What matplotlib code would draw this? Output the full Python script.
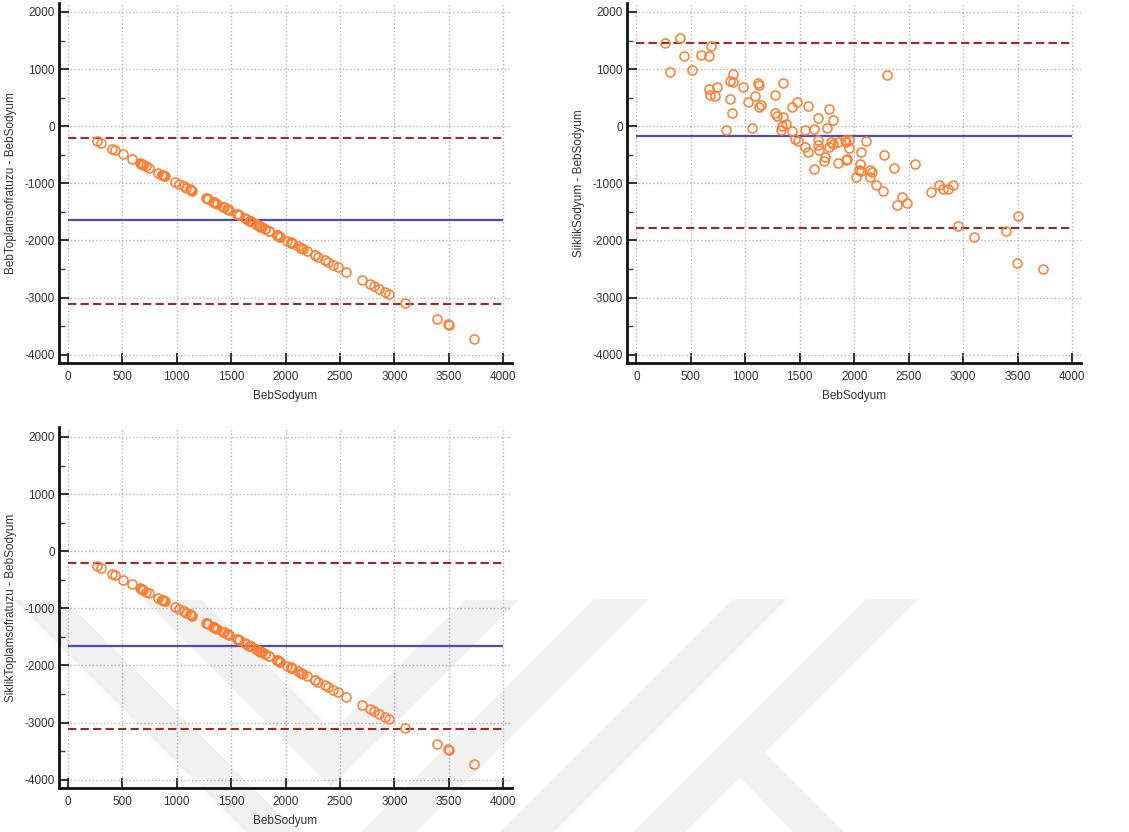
import numpy as np
import matplotlib
matplotlib.use("Agg")
import matplotlib.pyplot as plt
from matplotlib.patches import Polygon
from matplotlib.ticker import MultipleLocator

plt.rcParams['font.family'] = ['Liberation Sans', 'DejaVu Sans']
plt.rcParams['axes.unicode_minus'] = False

# BebSodyum (x axis, shared by all three panels)
beb_sodyum = [267, 307, 405, 435, 509, 592, 665, 687, 671, 677,
              720, 745, 825, 861, 861, 877, 886, 889, 981, 1024,
              1064, 1088, 1119, 1128, 1128, 1143, 1269, 1275, 1290, 1343,
              1349, 1330, 1340, 1373, 1425, 1432, 1471, 1459, 1480, 1551,
              1572, 1551, 1572, 1628, 1634, 1670, 1670, 1668, 1680, 1729,
              1726, 1753, 1769, 1769, 1784, 1809, 1809, 1851, 1851, 1919,
              1925, 1931, 1925, 1950, 1950, 2017, 2063, 2054, 2048, 2063,
              2113, 2146, 2162, 2146, 2201, 2268, 2274, 2299, 2363, 2394,
              2440, 2486, 2559, 2706, 2780, 2814, 2860, 2912, 2955, 3102,
              3396, 3500, 3494, 3736]

# BebToplamsofratuzu - BebSodyum
diff_beb_toplam = [-255, -292, -392, -420, -495, -580, -650, -672, -656, -662,
                   -705, -733, -812, -846, -850, -862, -874, -877, -968, -1010,
                   -1050, -1073, -1104, -1112, -1116, -1130, -1255, -1262, -1276, -1328,
                   -1336, -1318, -1325, -1360, -1412, -1418, -1456, -1445, -1466, -1536,
                   -1558, -1540, -1560, -1615, -1620, -1655, -1658, -1654, -1667, -1714,
                   -1712, -1740, -1756, -1752, -1770, -1795, -1792, -1836, -1840, -1905,
                   -1910, -1918, -1912, -1935, -1938, -2004, -2048, -2040, -2034, -2050,
                   -2100, -2132, -2148, -2135, -2188, -2253, -2262, -2285, -2350, -2380,
                   -2426, -2472, -2550, -2690, -2760, -2798, -2846, -2898, -2942, -3088,
                   -3382, -3478, -3470, -3720]

# SiiklikSodyum - BebSodyum
diff_siiklik = [1458, 946, 1546, 1225, 981, 1243, 1225, 1412, 648, 549,
                532, 695, -74, 468, 794, 235, 777, 911, 678, 421,
                -27, 526, 765, 718, 340, 369, 549, 235, 177, 765,
                165, -68, 8, 31, 340, -86, 427, -219, -260, -68,
                351, -365, -458, -56, -755, 136, -243, -336, -412, -546,
                -610, -33, 305, -359, -283, 101, -318, -272, -650, -243,
                -272, -581, -592, -388, -243, -884, -452, -668, -767, -779,
                -260, -767, -802, -884, -1035, -1134, -505, 899, -738, -1379,
                -1233, -1344, -668, -1152, -1035, -1093, -1105, -1035, -1746, -1944,
                -1827, -1565, -2392, -2491]

# SiklikToplamsofratuzu - BebSodyum
diff_siklik_toplam = [-252, -290, -392, -420, -495, -580, -650, -672, -656, -662,
                      -705, -733, -812, -846, -850, -862, -874, -877, -968, -1010,
                      -1050, -1073, -1104, -1112, -1116, -1130, -1255, -1262, -1276, -1328,
                      -1336, -1318, -1325, -1360, -1412, -1418, -1456, -1445, -1466, -1536,
                      -1558, -1540, -1560, -1615, -1620, -1655, -1658, -1654, -1667, -1714,
                      -1712, -1740, -1756, -1752, -1770, -1795, -1792, -1836, -1840, -1905,
                      -1910, -1918, -1912, -1935, -1938, -2004, -2048, -2040, -2034, -2050,
                      -2100, -2132, -2148, -2135, -2188, -2253, -2262, -2285, -2350, -2380,
                      -2426, -2472, -2550, -2690, -2760, -2798, -2846, -2898, -2942, -3090,
                      -3382, -3478, -3470, -3725]

# mean difference and limits of agreement (upper, lower)
mean_toplam, loa_toplam = -1650, (-205, -3105)
mean_siiklik, loa_siiklik = -165, (1455, -1786)
mean_siklik_toplam, loa_siklik_toplam = -1654, (-198, -3112)

W, H = 1129, 832
fig = plt.figure(figsize=(W / 100, H / 100), dpi=100)

# light watermark behind the lower panel (pixel coords)
wm_shapes = [
    [(14, 600), (65, 600), (297, 832), (246, 832)],
    [(144, 600), (202, 600), (333, 731), (465, 600), (519, 600), (331, 787)],
    [(594, 599), (649, 599), (416, 832), (361, 832)],
    [(733, 599), (787, 599), (554, 832), (500, 832)],
    [(866, 599), (919, 599), (686, 832), (633, 832)],
    [(765, 753), (844, 832), (793, 832), (740, 778)],
]
for pts in wm_shapes:
    fig.patches.append(Polygon([(px / W, 1 - py / H) for px, py in pts], closed=True,
                               transform=fig.transFigure, facecolor='#f1f1f1',
                               edgecolor='none', zorder=-5))


def px_axes(left, top, right, bottom):
    return fig.add_axes([left / W, 1 - bottom / H, (right - left) / W, (bottom - top) / H])


def ba_panel(ax, x, d, mean, loa, ylabel, xlim, ylim):
    ax.set_facecolor('none')
    ax.set_xlim(*xlim)
    ax.set_ylim(*ylim)
    ax.set_xticks(range(0, 4001, 500))
    ax.set_yticks(range(-4000, 2001, 1000))
    ax.yaxis.set_minor_locator(MultipleLocator(500))
    ax.grid(True, which='major', ls=':', color='#b5b5b5', lw=1.0)
    ax.set_axisbelow(True)
    ax.hlines(loa, 0, 4000, colors='#a52626', linestyles=(0, (4, 2)), lw=1.5, zorder=2)
    ax.hlines(mean, 0, 4000, colors='#4b4bc4', lw=1.6, zorder=2)
    ax.plot(x, d, 'o', mfc='none', mec='#ff7b2e', ms=6.5, mew=1.1, zorder=3)
    for s in ['top', 'right']:
        ax.spines[s].set_visible(False)
    for s in ['left', 'bottom']:
        ax.spines[s].set_linewidth(2.0)
        ax.spines[s].set_color('#111111')
    ax.tick_params(which='major', direction='in', length=7, width=1.3, color='#222222',
                   labelsize=8.5, labelcolor='#333333')
    ax.tick_params(axis='y', which='minor', direction='in', length=4, width=1.0, color='#444444')
    ax.tick_params(axis='x', pad=6)
    ax.tick_params(axis='y', pad=3)
    ax.set_xlabel('BebSodyum', fontsize=8.5, color='#333333')
    ax.set_ylabel(ylabel, fontsize=8.5, color='#333333')
    ax.xaxis.set_label_coords(0.5, -0.075)
    ax.yaxis.set_label_coords(-0.092, 0.5)


ax1 = px_axes(59, 3, 512, 363)
ba_panel(ax1, beb_sodyum, diff_beb_toplam, mean_toplam, loa_toplam,
         'BebToplamsofratuzu - BebSodyum', (-83, 4083), (-4145, 2157))

ax2 = px_axes(627, 3, 1081, 363)
ba_panel(ax2, beb_sodyum, diff_siiklik, mean_siiklik, loa_siiklik,
         'SiiklikSodyum - BebSodyum', (-86, 4083), (-4145, 2157))

ax3 = px_axes(59, 427, 512, 788)
ba_panel(ax3, beb_sodyum, diff_siklik_toplam, mean_siklik_toplam, loa_siklik_toplam,
         'SiklikToplamsofratuzu - BebSodyum', (-83, 4083), (-4145, 2175))

fig.savefig('out.png', dpi=100)
